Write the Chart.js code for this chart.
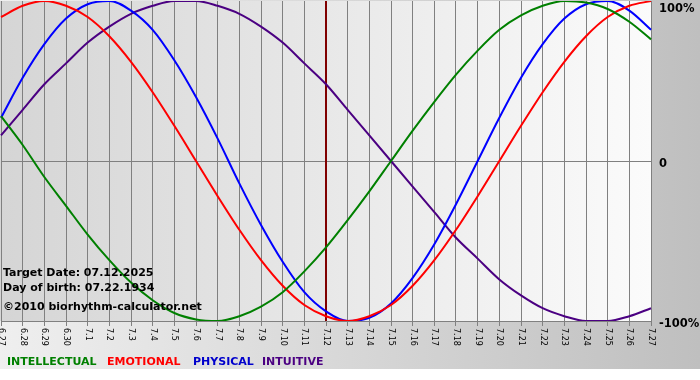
<!DOCTYPE html>
<html>
<head>
<meta charset="utf-8">
<script src="https://cdn.jsdelivr.net/npm/chart.js@4.4.1/dist/chart.umd.min.js"></script>
<style>
  html, body { margin: 0; padding: 0; background: #fff; }
  #wrap { position: relative; width: 700px; height: 380px; overflow: hidden; }
  #wrap canvas { position: absolute; left: 0; top: 0; }
  .info { position: absolute; left: 3px; font: bold 11px "DejaVu Sans", Verdana, sans-serif; color: #000; white-space: nowrap; line-height: 1; }
  .lg { position: absolute; top: 356px; font: bold 11px "DejaVu Sans", Verdana, sans-serif; white-space: nowrap; line-height: 1; }
</style>
</head>
<body>
<div id="wrap">
  <canvas id="bio" width="700" height="380"></canvas>
  <div class="info" style="top:267px">Target Date: 07.12.2025</div>
  <div class="info" style="top:282px">Day of birth: 07.22.1934</div>
  <div class="info" style="top:301px">©2010 biorhythm-calculator.net</div>
  <div class="lg" style="left:7px;color:#008000">INTELLECTUAL</div>
  <div class="lg" style="left:107px;color:#ff0000">EMOTIONAL</div>
  <div class="lg" style="left:193px;color:#0000cc">PHYSICAL</div>
  <div class="lg" style="left:262px;color:#4b0082">INTUITIVE</div>
</div>
<script>
// 날짜 (x축)
var dayLabels = [
  "6.27", "6.28", "6.29", "6.30", "7.1", "7.2", "7.3", "7.4", "7.5", "7.6",
  "7.7", "7.8", "7.9", "7.10", "7.11", "7.12", "7.13", "7.14", "7.15", "7.16",
  "7.17", "7.18", "7.19", "7.20", "7.21", "7.22", "7.23", "7.24", "7.25", "7.26",
  "7.27",
];
var targetDay = "7.12";

// 곡선 값 (%)
var intellectual = [28, 10, -10, -28, -46, -62, -76, -87, -95, -99, -100, -97, -91, -82, -69,
  -54, -37, -19, 0, 19, 37, 54, 69, 82, 91, 97, 100, 99, 95, 87, 76];
var emotional = [90, 97, 100, 97, 90, 78, 62, 43, 22, 0, -22, -43, -62, -78, -90,
  -97, -100, -97, -90, -78, -62, -43, -22, 0, 22, 43, 62, 78, 90, 97, 100];
var physical = [27, 52, 73, 89, 98, 100, 94, 82, 63, 40, 14, -14, -40, -63, -82,
  -94, -100, -98, -89, -73, -52, -27, 0, 27, 52, 73, 89, 98, 100, 94, 82];
var intuitive = [16, 32, 48, 61, 74, 84, 92, 97, 100, 100, 97, 92, 84, 74, 61,
  48, 32, 16, 0, -16, -32, -48, -61, -74, -84, -92, -97, -100, -100, -97, -92];

// y축 눈금
var yTicks = [100, 0, -100];
var yTickLabels = ["100%", "0", "-100%"];

// 배경 그라데이션
var bgPlugin = {
  id: "bg",
  beforeDraw: function (chart) {
    var ctx = chart.ctx, a = chart.chartArea;
    ctx.save();
    var g = ctx.createLinearGradient(0, 0, chart.width, 0);
    g.addColorStop(0, "#efefef");
    g.addColorStop(1, "#bfbfbf");
    ctx.fillStyle = g;
    ctx.fillRect(0, 0, chart.width, 369);
    ctx.fillStyle = "#ffffff";
    ctx.fillRect(0, 369, chart.width, chart.height - 369);
    var g2 = ctx.createLinearGradient(0, 0, a.right, 0);
    g2.addColorStop(0, "#d5d5d5");
    g2.addColorStop(1, "#fbfbfb");
    ctx.fillStyle = g2;
    ctx.fillRect(0, a.top, a.right, a.bottom - a.top);
    ctx.restore();
  },
  // 오늘 날짜 세로선
  beforeDatasetsDraw: function (chart) {
    var ctx = chart.ctx, a = chart.chartArea;
    var x = chart.scales.x.getPixelForValue(dayLabels.indexOf(targetDay));
    ctx.save();
    ctx.strokeStyle = "#800000";
    ctx.lineWidth = 2;
    ctx.beginPath();
    ctx.moveTo(x, a.top);
    ctx.lineTo(x, a.bottom);
    ctx.stroke();
    ctx.restore();
  },
  // 눈금 라벨 직접 그리기
  afterDraw: function (chart) {
    var ctx = chart.ctx, a = chart.chartArea;
    var xs = chart.scales.x, ys = chart.scales.y;
    ctx.save();
    ctx.fillStyle = "#000";
    ctx.font = '8px "DejaVu Sans", Verdana, sans-serif';
    ctx.textAlign = "left";
    ctx.textBaseline = "middle";
    for (var i = 0; i < dayLabels.length; i++) {
      ctx.save();
      ctx.translate(xs.getPixelForTick(i), a.bottom + 7);
      ctx.rotate(Math.PI / 2);
      ctx.fillText(dayLabels[i], 0, 0);
      ctx.restore();
    }
    ctx.font = 'bold 11.5px "DejaVu Sans", Verdana, sans-serif';
    ctx.textBaseline = "alphabetic";
    for (var j = 0; j < yTicks.length; j++) {
      var y = Math.max(ys.getPixelForValue(yTicks[j]) + 5.5, a.top + 11);
      ctx.fillText(yTickLabels[j], 659, y);
    }
    ctx.restore();
  },
};

new Chart(document.getElementById("bio"), {
  type: "line",
  data: {
    labels: dayLabels,
    datasets: [
      { label: "INTELLECTUAL", data: intellectual, borderColor: "#008000" },
      { label: "EMOTIONAL", data: emotional, borderColor: "#ff0000" },
      { label: "PHYSICAL", data: physical, borderColor: "#0000ff" },
      { label: "INTUITIVE", data: intuitive, borderColor: "#4b0082" },
    ],
  },
  options: {
    responsive: false,
    animation: false,
    events: [],
    layout: { padding: { left: 1, top: 1, right: 0, bottom: 0 } },
    elements: {
      line: { borderWidth: 2, cubicInterpolationMode: "monotone", fill: false },
      point: { radius: 0 },
    },
    plugins: {
      legend: { display: false },
      tooltip: { enabled: false },
    },
    scales: {
      x: {
        offset: false,
        grid: { color: "#808080", lineWidth: 1, drawTicks: true, tickLength: 5 },
        border: { color: "#808080" },
        ticks: { display: false, autoSkip: false },
        afterFit: function (scale) { scale.height = 59; },
      },
      y: {
        position: "right",
        min: -100,
        max: 100,
        grid: {
          drawTicks: false,
          color: function (c) { return c.tick.value === 0 ? "#808080" : "rgba(0,0,0,0)"; },
        },
        border: { display: false },
        ticks: { display: false, stepSize: 100 },
        afterFit: function (scale) { scale.width = 49; },
      },
    },
  },
  plugins: [bgPlugin],
});
</script>
</body>
</html>
